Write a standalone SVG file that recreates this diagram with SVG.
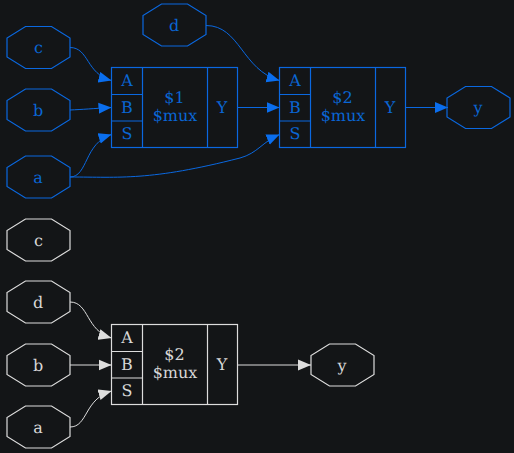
<svg xmlns="http://www.w3.org/2000/svg" width="514" height="453" viewBox="0 0 514 453">
<defs>
<polygon id="oct" points="31.5,-9.500 31.5,9.500 13,21 -13,21 -31.500,9.500 -31.500,-9.500 -13,-21 13,-21" />
<marker id="ab" markerUnits="userSpaceOnUse" markerWidth="14" markerHeight="12" refX="13" refY="6" orient="auto"><path d="M0,0.500L13,6L0,11.500Z" fill="#0a6eee"/></marker>
<marker id="aw" markerUnits="userSpaceOnUse" markerWidth="14" markerHeight="12" refX="13" refY="6" orient="auto"><path d="M0,0.500L13,6L0,11.500Z" fill="#dddddd"/></marker>
</defs>
<style>
text{font-family:"DejaVu Serif",serif;font-size:16px;text-anchor:middle;text-rendering:geometricPrecision}
.b{fill:none;stroke:#0a68e0;stroke-width:1.2}
.w{fill:none;stroke:#dddddd;stroke-width:1.2}
.tb{fill:#0a66d4}
.tw{fill:#d8d8d8}
#conn-b path{fill:none;stroke:#0a68e0;stroke-width:1;marker-end:url(#ab)}
#conn-w path{fill:none;stroke:#dddddd;stroke-width:1;marker-end:url(#aw)}
</style>
<rect width="514" height="453" fill="#131517"/>
<g id="conn-b">
<path d="M70,47.500C89,47.500 86,74 111.500,80.500"/>
<path d="M70,110C82,109.500 94,108.500 111.500,107.500"/>
<path d="M70,177C88,177 84,143 111.500,134.500"/>
<path d="M70,177C120,177 150,181 240,158C258,153 262,142 279.500,134.500"/>
<path d="M206,25.500C240,25.500 242,70 279.500,80.500"/>
<path d="M238,107.500L279.500,107.500"/>
<path d="M406,107.500L448,107.500"/>
</g>
<g id="conn-w">
<path d="M70,302C89,302 86,331 111.500,338"/>
<path d="M70,365L111.500,365"/>
<path d="M70,427C88,427 84,399 111.500,391"/>
<path d="M238,365L311,365"/>
</g>
<g id="n-c1"><use href="#oct" class="b" x="38.500" y="47.500"/><text class="tb" x="38.500" y="53">c</text></g>
<g id="n-b1"><use href="#oct" class="b" x="38.500" y="110"/><text class="tb" x="38" y="115.500">b</text></g>
<g id="n-a1"><use href="#oct" class="b" x="38.500" y="177"/><text class="tb" x="38" y="182.500">a</text></g>
<g id="n-d1"><use href="#oct" class="b" x="174.500" y="25"/><text class="tb" x="174" y="30.500">d</text></g>
<g id="n-y1"><use href="#oct" class="b" x="478.500" y="107.500"/><text class="tb" x="478" y="113">y</text></g>
<g id="mux1">
<rect class="b" x="111.500" y="67.500" width="126" height="80"/>
<path class="b" d="M142.500,67.500V147.500M207.500,67.500V147.500M111.500,94.500H142.500M111.500,121H142.500"/>
<text class="tb" x="127" y="85.500">A</text><text class="tb" x="127" y="112.500">B</text><text class="tb" x="127" y="139">S</text>
<text class="tb" x="174.500" y="103">$1</text><text class="tb" x="175" y="121">$mux</text>
<text class="tb" x="222" y="112.500">Y</text>
</g>
<g id="mux2">
<rect class="b" x="279.500" y="67.500" width="126" height="80"/>
<path class="b" d="M310.500,67.500V147.500M375.500,67.500V147.500M279.500,94.500H310.500M279.500,121H310.500"/>
<text class="tb" x="295" y="85.500">A</text><text class="tb" x="295" y="112.500">B</text><text class="tb" x="295" y="139">S</text>
<text class="tb" x="342.500" y="103">$2</text><text class="tb" x="343" y="121">$mux</text>
<text class="tb" x="390" y="112.500">Y</text>
</g>
<g id="n-c2"><use href="#oct" class="w" x="38.500" y="240"/><text class="tw" x="38.500" y="245.500">c</text></g>
<g id="n-d2"><use href="#oct" class="w" x="38.500" y="302"/><text class="tw" x="38" y="307.500">d</text></g>
<g id="n-b2"><use href="#oct" class="w" x="38.500" y="365"/><text class="tw" x="38" y="370.500">b</text></g>
<g id="n-a2"><use href="#oct" class="w" x="38.500" y="427"/><text class="tw" x="38" y="432.500">a</text></g>
<g id="n-y2"><use href="#oct" class="w" x="342.500" y="365"/><text class="tw" x="342" y="370.500">y</text></g>
<g id="mux3">
<rect class="w" x="111.500" y="324.500" width="126" height="80"/>
<path class="w" d="M142.500,324.500V404.500M207.500,324.500V404.500M111.500,351.500H142.500M111.500,378H142.500"/>
<text class="tw" x="127" y="342.500">A</text><text class="tw" x="127" y="369.500">B</text><text class="tw" x="127" y="396">S</text>
<text class="tw" x="174.500" y="360">$2</text><text class="tw" x="175" y="378">$mux</text>
<text class="tw" x="222" y="369.500">Y</text>
</g>
</svg>
